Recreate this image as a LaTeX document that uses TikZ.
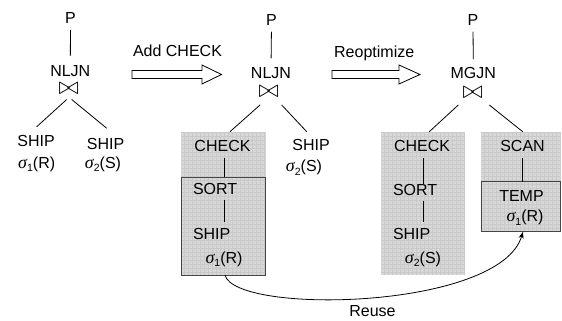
\documentclass[tikz,border=0pt]{standalone}
\usepackage{fontspec}
\setmainfont{Liberation Sans}
\newfontfamily\grkfont{Liberation Serif}
\usetikzlibrary{calc,arrows.meta}

\definecolor{colfill}{RGB}{215,215,215}
\definecolor{gridline}{RGB}{201,201,201}
\definecolor{boxline}{RGB}{70,70,70}

% selection predicate: italic sigma with a subscript and a relation name
\newcommand{\selexpr}[2]{{\grkfont\itshape\fontsize{18}{18}\selectfont σ}\raisebox{-3.5pt}{\fontsize{10.5}{10}\selectfont #1}(#2)}
% shaded column with a fine grid
\newcommand{\gridcol}[4]{%
  \fill[colfill] (#1,#2) rectangle (#3,#4);
  \begin{scope}
    \clip (#1,#2) rectangle (#3,#4);
    \draw[gridline, line width=0.45pt] (#1,#2) grid[step=4pt] (#3,#4);
  \end{scope}}

\begin{document}
\begin{tikzpicture}[x=1pt,y=-1pt,
  lbl/.style={font=\fontsize{16}{18}\selectfont, inner sep=0pt, outer sep=0pt, text height=11.5pt, text depth=0pt},
  sel/.style={font=\fontsize{16}{18}\selectfont, inner sep=0pt, anchor=base},
  joinsym/.style={font=\fontsize{25}{25}\selectfont, inner sep=0pt},
  edge/.style={line width=0.8pt, black},
  obox/.style={draw=boxline, line width=0.9pt, inner sep=0pt, outer sep=0pt},
  blockarrow/.style={draw=black, line width=0.8pt, fill=white, line join=miter}]

\fill[white] (0,0) rectangle (562,321);
\useasboundingbox (0,0) rectangle (562,321);

% shaded operator columns
\gridcol{181}{132}{265.7}{275}
\gridcol{381}{132}{465}{275}
\gridcol{481}{132}{560.5}{231.7}

% ---------------- initial plan ----------------
\node[lbl] (pA) at (70.5,18) {P};
\node[lbl] (jA) at (70.3,70.5) {NLJN};
\node[joinsym] (bA) at (68.7,88.5) {$\bowtie$};
\node[lbl] (sA1) at (36,141) {SHIP};
\node[lbl] (sA2) at (105.5,143.5) {SHIP};
\node[sel] (eA1) at (36.7,168.3) {\selexpr{1}{R}};
\node[sel] (eA2) at (103,168.3) {\selexpr{2}{S}};

\draw[edge, shorten <=6.25pt, shorten >=8.75pt] (pA.south) -- (jA.north);
\draw[edge] ($(bA)+(-2,11)$) -- ($(sA1.north)+(0.7,-8.5)$);
\draw[edge] ($(bA)+(3,11)$) -- ($(sA2.north)+(1.2,-9.5)$);

% ---------------- plan with CHECK ----------------
\node[lbl] (pB) at (271.5,20) {P};
\node[lbl] (jB) at (271,72.5) {NLJN};
\node[joinsym] (bB) at (268.7,91.8) {$\bowtie$};
\node[lbl] (cB) at (222.5,146) {CHECK};
\node[obox, minimum width=84.7pt, minimum height=98pt] (sortbox) at (223.35,226) {};
\node[lbl, anchor=west] (oB) at (193,189) {SORT};
\node[lbl, anchor=west] (hB) at (193,234) {SHIP};
\node[sel] (eB1) at (224,263.3) {\selexpr{1}{R}};
\node[lbl] (sB2) at (311,145) {SHIP};
\node[sel] (eB2) at (304,171.7) {\selexpr{2}{S}};

\draw[edge, shorten <=6pt, shorten >=8.5pt] (pB.south) -- (jB.north);
\draw[edge] ($(bB)+(-8.7,13.2)$) -- ($(cB.north)+(7.5,-8.55)$);
\draw[edge] ($(bB)+(13,13.2)$) -- ($(sB2.north)+(-4.3,-7.55)$);
\coordinate (vB) at ($(cB.south)+(1.6,0)$);
\draw[edge, shorten <=6.5pt] (vB) -- (vB |- sortbox.north);
\draw[edge, shorten <=5.25pt, shorten >=6.5pt] (vB |- oB.south) -- (vB |- hB.north);

% ---------------- reoptimized plan ----------------
\node[lbl] (pC) at (473,20) {P};
\node[lbl] (jC) at (473.3,72.5) {MGJN};
\node[joinsym] (bC) at (472.8,92.5) {$\bowtie$};
\node[lbl] (cC) at (422,146) {CHECK};
\node[lbl, anchor=west] (oC) at (393,190) {SORT};
\node[lbl, anchor=west] (hC) at (393,234) {SHIP};
\node[sel] (eC2) at (423,263) {\selexpr{2}{S}};
\node[lbl] (nC) at (522.5,146) {SCAN};
\node[obox, minimum width=79.5pt, minimum height=50pt] (tempbox) at (520.75,206.7) {};
\node[lbl] (tC) at (521.5,196) {TEMP};
\node[sel] (eC1) at (525,221.7) {\selexpr{1}{R}};

\draw[edge, shorten <=6pt, shorten >=7.5pt] (pC.south) -- (jC.north);
\draw[edge] ($(bC)+(-14.5,12.5)$) -- ($(cC.north)+(7.3,-8.55)$);
\draw[edge] ($(bC)+(16.5,12.5)$) -- ($(nC.north)+(0.2,-8.55)$);
\coordinate (vC) at ($(cC.south)+(1.3,0)$);
\draw[edge, shorten <=6.5pt, shorten >=0.5pt] (vC) -- (vC |- oC.north);
\draw[edge, shorten <=5.25pt, shorten >=6.5pt] (vC |- oC.south) -- (vC |- hC.north);
\coordinate (vN) at ($(nC.south)+(0.2,0)$);
\draw[edge, shorten <=6.5pt] (vN) -- (vN |- tempbox.north);

% ---------------- transformation arrows ----------------
\draw[blockarrow] (132,70.5) -- (202,70.5) -- (202,65) -- (221.5,74.5) -- (202,84)
  -- (202,78.5) -- (132,78.5) -- cycle;
\node[lbl] (addlbl) at (177.5,50.5) {Add CHECK};
\draw[blockarrow] (332,70.5) -- (399,70.5) -- (399,65) -- (420,74.5) -- (399,84)
  -- (399,78.5) -- (332,78.5) -- cycle;
\node[lbl] (reolbl) at (374.2,51.5) {Reoptimize};

% ---------------- reuse of the materialized result ----------------
\draw[edge, -{Stealth[length=7pt,width=5pt]}] ($(sortbox.south)+(1.65,0)$)
  .. controls (235,315) and (500,310) .. ($(tempbox.south)+(2.25,0)$);
\node[lbl] (reuse) at (372.5,311) {Reuse};

\end{tikzpicture}
\end{document}
